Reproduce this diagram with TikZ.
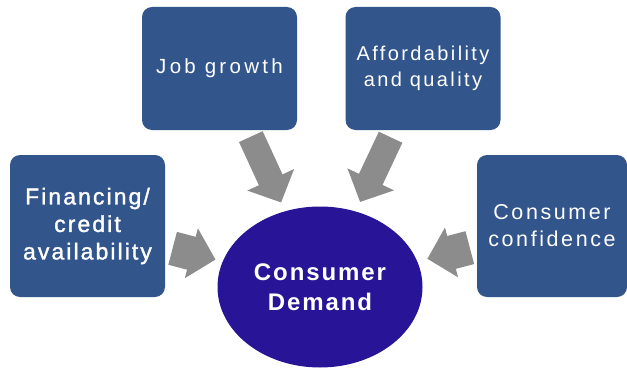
\documentclass[tikz,border=0pt]{standalone}
\usepackage{fontspec}
\setmainfont{Liberation Sans}
\newfontfamily\boxfont[LetterSpace=12]{Liberation Sans}
\newfontfamily\jobfont[LetterSpace=16]{Liberation Sans}
\newfontfamily\leftfont[LetterSpace=9,FakeBold=1.5]{Liberation Sans}
\newfontfamily\demfont[LetterSpace=8]{Liberation Sans}
\usetikzlibrary{shapes.geometric,arrows.meta}
\definecolor{boxblue}{RGB}{50,85,140}
\definecolor{ellblue}{RGB}{40,20,150}
\definecolor{arrgray}{RGB}{140,140,140}
\begin{document}
\begin{tikzpicture}[x=1pt,y=-1pt,
  factor/.style={rectangle, rounded corners=10pt, fill=boxblue, text=white,
    minimum width=155pt, minimum height=123pt, inner sep=0pt, align=center,
    font=\boxfont\fontsize{20}{26}\selectfont},
  demand/.style={ellipse, fill=ellblue, text=white, minimum width=205pt,
    minimum height=161pt, inner sep=0pt, align=center,
    font=\demfont\bfseries\fontsize{24}{30}\selectfont},
  blockarrow/.style={draw=arrgray, line width=#1, -{Triangle[width=50pt,length=25pt]}},
]
\useasboundingbox (0,0) rectangle (627,369);
\node[factor, minimum height=142pt, font=\leftfont\fontsize{23}{27.5}\selectfont] (fin) at (87.5,226) {Financing/\\credit\\availability};
\node[factor, font=\jobfont\fontsize{20.5}{26}\selectfont] (job) at (219.5,68.5) {Job growth};
\node[factor] (aff) at (423,68.5) {Affordability\\and quality};
\node[factor, minimum width=150pt, minimum height=142pt, font=\boxfont\fontsize{21.5}{27}\selectfont] (con) at (552,226) {Consumer\\confidence};
\node[demand] (dem) at (320,287) {Consumer\\Demand};
\draw[blockarrow=34pt, shorten <=88pt, shorten >=108pt] (fin.center) -- (dem.center);
\draw[blockarrow=26pt, shorten <=75pt, shorten >=93pt] (job.center) -- (dem.center);
\draw[blockarrow=26pt, shorten <=76pt, shorten >=94pt] (aff.center) -- (dem.center);
\draw[blockarrow=34pt, shorten <=85pt, shorten >=111pt] (con.center) -- (dem.center);
\end{tikzpicture}
\end{document}
